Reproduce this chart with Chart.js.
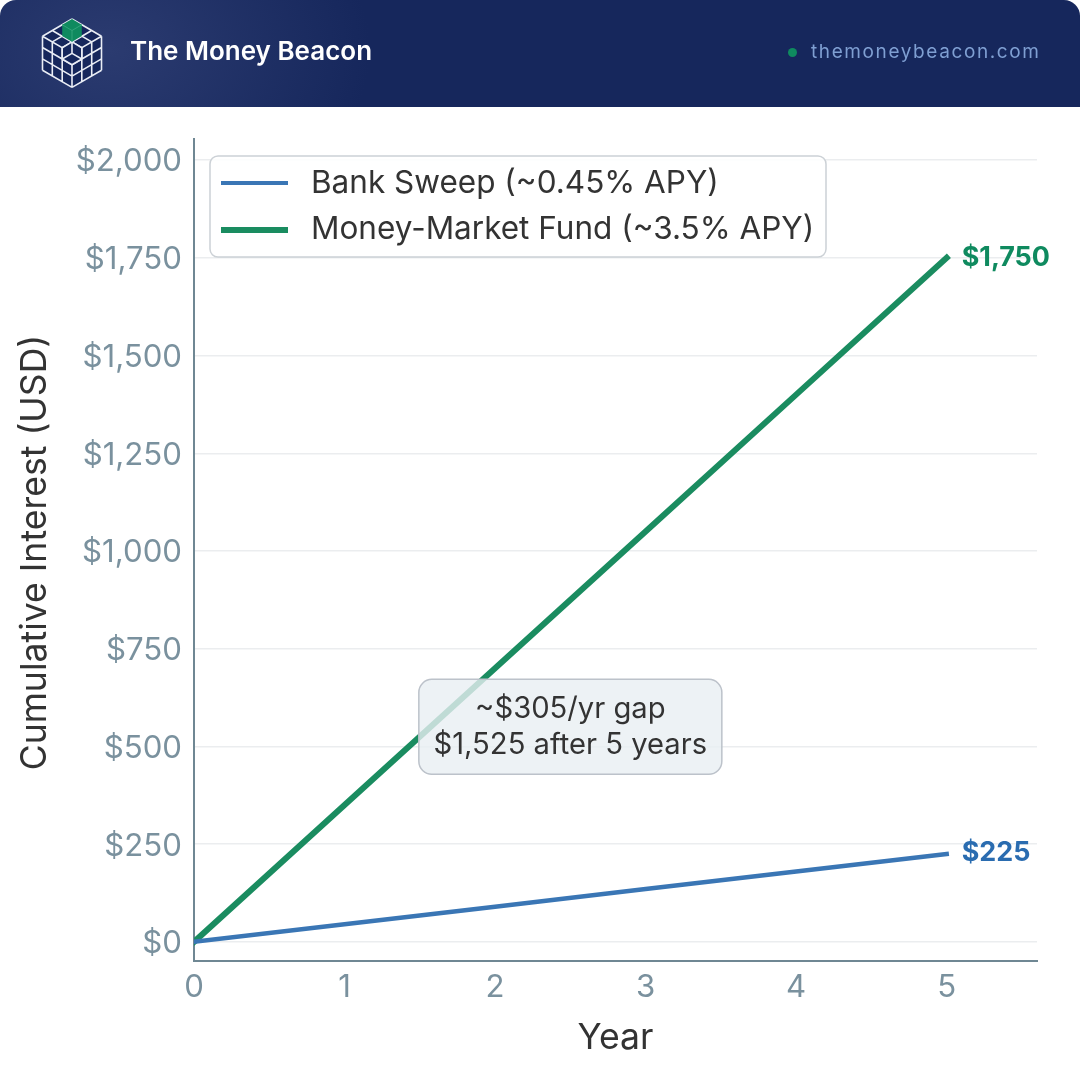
<!DOCTYPE html>
<html>
<head>
<meta charset="utf-8">
<script src="https://cdn.jsdelivr.net/npm/chart.js@4"></script>
<style>
html,body{margin:0;padding:0;background:#fff;width:1080px;height:1080px;overflow:hidden}
#wrap{position:relative;width:1080px;height:1080px}
#chart{position:absolute;left:0;top:0}
#hdr{position:absolute;left:0;top:0;width:1080px;height:107px;border-radius:16px 16px 0 0;
background:radial-gradient(ellipse 260px 190px at 110px 50px,#2b3b70 0%,#16275c 100%),#16275c;z-index:2}
#logo{position:absolute;left:0;top:0}
#brand{position:absolute;left:130px;top:34px;font:600 26px/34px Inter,sans-serif;color:#fff;white-space:nowrap}
#dot{position:absolute;left:788px;top:48px;width:9px;height:9px;border-radius:50%;background:#0f8a5f}
#site{position:absolute;left:811px;top:39px;font:400 19px/26px Inter,sans-serif;letter-spacing:1.6px;color:#7f9fd2;white-space:nowrap}
</style>
</head>
<body>
<div id="wrap">
<canvas id="chart" width="1080" height="1080" style="width:1080px;height:1080px"></canvas>
<div id="hdr">
<svg id="logo" width="120" height="107" viewBox="0 0 120 107"></svg>
<div id="brand">The Money Beacon</div>
<div id="dot"></div>
<div id="site">themoneybeacon.com</div>
</div>
</div>
<script>
const years = [0, 1, 2, 3, 4, 5];
const sweepValues = [0, 45, 90, 135, 180, 225];
const fundValues = [0, 350, 700, 1050, 1400, 1750];
const seriesNames = ['Bank Sweep (~0.45% APY)', 'Money-Market Fund (~3.5% APY)'];
const yTicks = [0, 250, 500, 750, 1000, 1250, 1500, 1750, 2000];
const xTicks = [0, 1, 2, 3, 4, 5];
const endLabels = ['$225', '$1,750'];
const noteLines = ['~$305/yr gap', '$1,525 after 5 years'];
const noteAnchor = [2.5, 550];
const xTitle = 'Year';
const yTitle = 'Cumulative Interest (USD)';

const BLUE = '#3a76b5', GREEN = '#1a8c60';
const FONT = 'Inter, sans-serif';

function rr(ctx, x, y, w, h, r) {
  ctx.beginPath();
  ctx.roundRect(x, y, w, h, r);
}

// legend handle: a short line swatch
function swatch(color, thick) {
  const c = document.createElement('canvas');
  c.width = 67; c.height = thick;
  const g = c.getContext('2d');
  g.fillStyle = color;
  g.fillRect(0, 0, 67, thick);
  return c;
}

const overlay = {
  id: 'overlay',
  beforeLayout(chart) {
    const l = chart.legend;
    if (l && !l._framed) {
      l._framed = true;
      const orig = l.draw;
      l.draw = function () {
        const ctx = chart.ctx;
        ctx.save();
        rr(ctx, 210, 156, 616, 101, 8);
        ctx.fillStyle = 'rgba(255,255,255,0.85)'; ctx.fill();
        ctx.strokeStyle = '#ccd1d6'; ctx.lineWidth = 1.5; ctx.stroke();
        ctx.restore();
        orig.call(this);
      };
    }
    const s = chart.scales.y;
    if (s && !s._nudged) {
      s._nudged = true;
      const items = s._computeLabelItems;
      s._computeLabelItems = function (a) {
        const out = items.call(this, a);
        out.forEach(it => { it.options.translation[1] += 2; });
        return out;
      };
      const title = s.drawTitle;
      s.drawTitle = function () {
        const ctx = this.ctx;
        ctx.save(); ctx.translate(0, 2.5);
        title.call(this);
        ctx.restore();
      };
    }
  },
  afterLayout(chart) {
    const l = chart.legend;
    l.left = 198.75; l.top = 152.5; l.right = 826; l.bottom = 300;
  },
  afterDatasetsDraw(chart) {
    const ctx = chart.ctx, xs = chart.scales.x, ys = chart.scales.y;
    ctx.save();
    // note box, placed from its data anchor
    const cx = xs.getPixelForValue(noteAnchor[0]), cy = ys.getPixelForValue(noteAnchor[1]);
    rr(ctx, cx - 151.5, cy - 47.5, 303, 95, 13);
    ctx.fillStyle = 'rgba(233,239,242,0.8)'; ctx.fill();
    ctx.strokeStyle = '#bcc2ca'; ctx.lineWidth = 1.5; ctx.stroke();
    ctx.fillStyle = '#333333';
    ctx.font = '400 29.2px ' + FONT;
    ctx.textAlign = 'center'; ctx.textBaseline = 'middle';
    ctx.fillText(noteLines[0], cx, cy - 18);
    ctx.fillText(noteLines[1], cx, cy + 18);
    // end labels
    ctx.textAlign = 'left';
    ctx.font = '700 26.9px ' + FONT;
    const last = years.length - 1;
    ctx.fillStyle = '#2a6cb0';
    ctx.fillText(endLabels[0], xs.getPixelForValue(years[last]) + 15, ys.getPixelForValue(sweepValues[last]) - 1);
    ctx.fillStyle = '#0f8a5f';
    ctx.fillText(endLabels[1], xs.getPixelForValue(years[last]) + 15, ys.getPixelForValue(fundValues[last]));
    ctx.restore();
  }
};

new Chart(document.getElementById('chart'), {
  type: 'line',
  data: {
    labels: years,
    datasets: [
      { label: seriesNames[0], data: years.map((y, i) => ({ x: y, y: sweepValues[i] })), borderColor: BLUE, backgroundColor: BLUE, borderWidth: 4.5, pointRadius: 0, pointStyle: swatch(BLUE, 4), borderCapStyle: 'square', tension: 0 },
      { label: seriesNames[1], data: years.map((y, i) => ({ x: y, y: fundValues[i] })), borderColor: GREEN, backgroundColor: GREEN, borderWidth: 6, pointRadius: 0, pointStyle: swatch(GREEN, 6), borderCapStyle: 'square', tension: 0 }
    ]
  },
  options: {
    responsive: false,
    animation: false,
    devicePixelRatio: 1,
    layout: { padding: { top: 139, right: 43, left: 0, bottom: 0 } },
    plugins: {
      tooltip: { enabled: false },
      legend: {
        position: 'chartArea',
        align: 'start',
        labels: {
          usePointStyle: true,
          pointStyleWidth: 81.5,
          boxHeight: 20,
          padding: 15,
          color: '#333333',
          font: { family: FONT, size: 31.5 }
        }
      }
    },
    scales: {
      x: {
        type: 'linear',
        min: 0,
        max: 5.6,
        afterFit(s) { s.height = 119; },
        afterBuildTicks(s) { s.ticks = xTicks.map(v => ({ value: v })); },
        grid: { display: false, drawTicks: false },
        border: { display: true, color: '#6f8793', width: 2 },
        ticks: { color: '#7a919e', padding: 8, maxRotation: 0, font: { family: FONT, size: 31.2 }, callback: v => String(v) },
        title: { display: true, text: xTitle, color: '#333333', font: { family: FONT, size: 35.6 }, padding: { top: 0, bottom: 20 } }
      },
      y: {
        type: 'linear',
        min: -49,
        max: 2054,
        afterFit(s) { s.width = 194; },
        afterBuildTicks(s) { s.ticks = yTicks.map(v => ({ value: v })); },
        grid: { color: '#ebedef', lineWidth: 1.5, drawTicks: false },
        border: { display: true, color: '#6f8793', width: 2 },
        ticks: { color: '#7a919e', padding: 12, font: { family: FONT, size: 31.2 }, callback: v => '$' + v.toLocaleString('en-US') },
        title: { display: true, text: yTitle, color: '#333333', font: { family: FONT, size: 35.6 }, padding: { top: 14, bottom: 0 } }
      }
    }
  },
  plugins: [overlay]
});

// header logo: isometric 3x3x3 cube with the front corner block removed
(function () {
  const svg = document.getElementById('logo');
  const T = [72, 19], dxR = [29.5 / 3, 17.2 / 3], dxL = [-29.5 / 3, 17.2 / 3], dn = [0, 34 / 3];
  const P = (o, a, ua, b, ub) => [o[0] + a * ua[0] + b * ub[0], o[1] + a * ua[1] + b * ub[1]];
  const F = p => p[0].toFixed(1) + ' ' + p[1].toFixed(1);
  const poly = a => 'M' + a.map(F).join('L') + 'Z';
  const seg = (a, b) => 'M' + F(a) + 'L' + F(b);
  let lines = '';
  const R = P(T, 3, dxR, 0, dxL), L = P(T, 3, dxL, 0, dxR), C = P(T, 3, dxR, 3, dxL);
  const Bm = P(C, 3, dn, 0, dn);
  const body = poly([T, R, P(R, 3, dn, 0, dn), Bm, P(L, 3, dn, 0, dn), L]);
  for (let i = 0; i <= 3; i++) {
    lines += seg(P(T, i, dxR, 0, dxL), P(T, i, dxR, 3, dxL));
    lines += seg(P(T, i, dxL, 0, dxR), P(T, i, dxL, 3, dxR));
    lines += seg(P(L, i, dxR, 0, dn), P(L, i, dxR, 3, dn));
    lines += seg(P(L, 0, dxR, i, dn), P(L, 3, dxR, i, dn));
    lines += seg(P(R, i, dxL, 0, dn), P(R, i, dxL, 3, dn));
    lines += seg(P(R, 0, dxL, i, dn), P(R, 3, dxL, i, dn));
  }
  // removed corner block: hexagon silhouette with the hollow drawn inside
  const hTop = P(C, -1, dxR, -1, dxL), hR = P(C, 1, [dxR[0] - 0, -dxR[1]], 0, dn), hL = P(C, 1, [dxL[0], -dxL[1]], 0, dn);
  const hLd = P(hL, 1, dn, 0, dn), hRd = P(hR, 1, dn, 0, dn), hBot = P(C, 1, dn, 0, dn);
  const hex = poly([hTop, hR, hRd, hBot, hLd, hL]);
  const hollow = hex + seg(hTop, C) + seg(C, hLd) + seg(C, hRd);
  const gT = T, gR = P(T, 1, dxR, 0, dxL), gL = P(T, 0, dxR, 1, dxL), gC = P(T, 1, dxR, 1, dxL);
  const gLow = P(gC, 1, dn, 0, dn), gRL = P(gR, 1, dn, 0, dn), gLL = P(gL, 1, dn, 0, dn);
  svg.innerHTML =
    '<path d="' + body + '" fill="#16275c"/>' +
    '<path d="' + lines + '" fill="none" stroke="#e9edf5" stroke-width="1.6"/>' +
    '<path d="' + hex + '" fill="#16275c"/>' +
    '<path d="' + hollow + '" fill="none" stroke="#e9edf5" stroke-width="1.6"/>' +
    '<path d="' + poly([gT, gR, gRL, gLow, gLL, gL]) + '" fill="#0f8a5f"/>' +
    '<path d="' + seg(gL, gC) + seg(gC, gR) + seg(gC, gLow) + '" fill="none" stroke="#3aa882" stroke-width="0.8"/>';
})();
</script>
</body>
</html>
